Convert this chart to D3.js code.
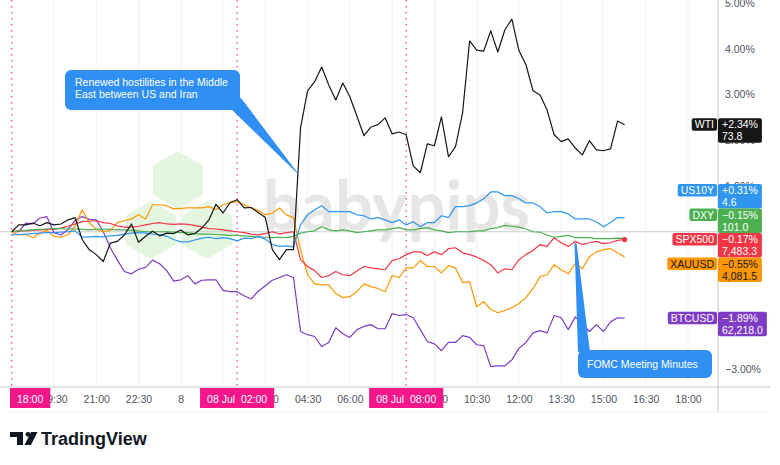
<!DOCTYPE html>
<html>
<head>
<meta charset="utf-8">
<script src="https://cdn.jsdelivr.net/npm/d3@7"></script>
<style>
  body { margin: 0; background: #ffffff; }
  svg { display: block; font-family: "Liberation Sans", Arial, sans-serif; }
</style>
</head>
<body>
<div id="chart"></div>
<script>
// 15 minute bars, % change from 7 Jul 18:00
var startTime = new Date(2025, 6, 7, 18, 0);
var endTime = new Date(2025, 6, 8, 18, 0);
var stepMinutes = 15;

var wti = [0.00, 0.15, 0.15, 0.19, 0.13, 0.20, 0.15, 0.17, 0.26, 0.31,
  -0.17, -0.39, -0.50, -0.65, -0.25, -0.21, -0.07, 0.17, -0.23, -0.10,
  0.01, -0.09, -0.03, -0.04, 0.04, -0.07, -0.04, 0.08, 0.26, 0.60,
  0.41, 0.64, 0.70, 0.52, 0.53, 0.42, 0.31, -0.39, -0.61, -0.39,
  -0.39, 2.27, 3.08, 3.28, 3.60, 3.21, 2.88, 3.25, 2.95, 2.53,
  2.10, 2.29, 2.34, 2.49, 2.14, 2.18, 2.12, 1.44, 1.29, 1.92,
  1.88, 2.51, 1.64, 1.86, 2.60, 4.17, 3.97, 3.95, 4.39, 3.93,
  4.41, 4.65, 3.96, 3.65, 3.08, 2.99, 2.66, 2.12, 1.97, 2.03,
  1.83, 1.68, 1.99, 1.79, 1.77, 1.81, 2.42, 2.34];

var us10y = [-0.07, -0.06, -0.05, -0.04, -0.03, -0.02, -0.02, -0.01, 0.00, 0.02,
  -0.12, -0.11, -0.10, -0.11, -0.09, -0.08, -0.05, -0.03, -0.02, -0.03,
  -0.05, -0.06, -0.10, -0.17, -0.22, -0.22, -0.18, -0.14, -0.12, -0.15,
  -0.13, -0.15, -0.20, -0.14, -0.15, -0.10, -0.16, -0.28, -0.32, -0.31,
  -0.33, 0.15, 0.37, 0.48, 0.57, 0.44, 0.44, 0.44, 0.44, 0.37,
  0.35, 0.28, 0.31, 0.26, 0.20, 0.26, 0.15, 0.22, 0.11, 0.20,
  0.20, 0.35, 0.31, 0.55, 0.55, 0.57, 0.63, 0.72, 0.87, 0.87,
  0.79, 0.79, 0.72, 0.63, 0.63, 0.55, 0.41, 0.44, 0.44, 0.39,
  0.28, 0.28, 0.28, 0.22, 0.11, 0.20, 0.31, 0.31];

var dxy = [0.00, 0.02, 0.03, 0.04, 0.05, 0.06, 0.07, 0.07, 0.06, 0.06,
  0.05, 0.04, 0.05, 0.06, 0.05, 0.04, 0.04, 0.03, 0.02, 0.00,
  0.00, 0.00, 0.00, -0.01, -0.02, -0.02, -0.04, -0.05, -0.05, -0.06,
  -0.07, -0.08, -0.08, -0.09, -0.10, -0.11, -0.12, -0.13, -0.12, -0.13,
  -0.10, -0.03, 0.00, 0.02, 0.11, 0.04, 0.02, 0.04, 0.02, -0.02,
  0.00, 0.02, 0.04, 0.04, 0.07, 0.09, 0.04, 0.04, 0.07, 0.09,
  0.04, 0.02, -0.02, 0.00, 0.00, 0.00, 0.02, 0.02, 0.07, 0.09,
  0.14, 0.12, 0.10, 0.06, 0.00, -0.01, -0.07, -0.12, -0.10, -0.08,
  -0.13, -0.13, -0.13, -0.15, -0.15, -0.15, -0.14, -0.15];

var spx500 = [0.00, 0.02, 0.02, 0.03, 0.04, 0.05, 0.05, 0.08, 0.12, 0.17,
  0.22, 0.23, 0.24, 0.20, 0.18, 0.13, 0.10, 0.10, 0.12, 0.15,
  0.18, 0.20, 0.17, 0.16, 0.17, 0.16, 0.14, 0.10, 0.07, 0.06,
  0.04, 0.02, 0.00, -0.02, -0.05, -0.07, -0.04, 0.00, -0.05, -0.02,
  0.00, -0.61, -0.76, -0.85, -1.00, -0.96, -0.87, -0.94, -0.96, -0.86,
  -0.76, -0.79, -0.81, -0.83, -0.63, -0.59, -0.50, -0.44, -0.44, -0.52,
  -0.44, -0.50, -0.37, -0.35, -0.46, -0.50, -0.55, -0.63, -0.72, -0.90,
  -0.81, -0.83, -0.61, -0.50, -0.41, -0.28, -0.32, -0.13, -0.24, -0.32,
  -0.21, -0.28, -0.24, -0.21, -0.26, -0.24, -0.19, -0.17];

var xauusd = [0.00, -0.07, -0.06, -0.13, -0.03, 0.03, -0.10, -0.12, -0.06, 0.12,
  0.48, 0.20, 0.05, 0.00, 0.03, 0.20, 0.24, 0.28, 0.37, 0.28,
  0.59, 0.59, 0.57, 0.50, 0.51, 0.52, 0.52, 0.52, 0.55, 0.48,
  0.59, 0.63, 0.66, 0.59, 0.52, 0.47, 0.37, 0.41, 0.52, 0.37,
  0.31, -0.39, -0.94, -1.14, -1.16, -1.16, -1.35, -1.44, -1.42, -1.31,
  -1.14, -1.20, -1.24, -1.31, -0.96, -1.00, -0.79, -0.79, -0.63, -0.76,
  -0.76, -0.90, -0.74, -0.79, -1.11, -1.09, -1.64, -1.53, -1.70, -1.77,
  -1.72, -1.66, -1.57, -1.44, -1.24, -0.98, -0.94, -0.72, -0.83, -0.92,
  -0.70, -0.81, -0.55, -0.44, -0.39, -0.37, -0.46, -0.55];

var btcusd = [0.00, 0.00, 0.19, 0.17, 0.30, 0.33, -0.02, -0.07, 0.05, 0.25,
  0.33, 0.27, 0.26, 0.00, -0.35, -0.62, -0.87, -0.92, -0.82, -0.78,
  -0.62, -0.70, -0.85, -1.08, -1.05, -0.96, -1.14, -1.06, -1.05, -1.05,
  -1.28, -1.31, -1.31, -1.40, -1.47, -1.30, -1.18, -1.06, -1.00, -0.94,
  -1.00, -2.18, -2.25, -2.29, -2.51, -2.42, -2.10, -2.23, -2.31, -2.14,
  -2.07, -2.03, -2.12, -2.12, -1.79, -1.83, -1.81, -1.88, -2.14, -2.40,
  -2.45, -2.60, -2.42, -2.42, -2.27, -2.31, -2.47, -2.49, -2.95, -2.93,
  -2.93, -2.80, -2.55, -2.42, -2.21, -2.16, -2.21, -1.83, -1.88, -2.14,
  -1.86, -2.01, -2.18, -2.03, -2.18, -1.97, -1.88, -1.89];

var seriesNames = ["BTCUSD", "XAUUSD", "SPX500", "DXY", "US10Y", "WTI"];
var seriesValues = [btcusd, xauusd, spx500, dxy, us10y, wti];
var seriesColors = ["#7e3bc4", "#ff9800", "#f23645", "#4caf50", "#2f96f0", "#161616"];
var labelTextColors = ["#ffffff", "#131722", "#ffffff", "#ffffff", "#ffffff", "#ffffff"];
var lastPrices = ["62,218.0", "4,081.5", "7,483.3", "101.0", "4.6", "73.8"];
var mainSeries = "SPX500";

var pctTicks = [-3, -2, -1, 0, 1, 2, 3, 4, 5];
var markerTimes = [new Date(2025, 6, 7, 18, 0), new Date(2025, 6, 8, 2, 0), new Date(2025, 6, 8, 8, 0)];
var markerLabels = ["18:00", "08 Jul  02:00", "08 Jul  08:00"];

var notes = [
  { lines: ["Renewed hostilities in the Middle", "East between US and Iran"] },
  { lines: ["FOMC Meeting Minutes"] }
];

var width = 780, height = 465;
var paneRight = 718, paneBottom = 387, axisBottom = 412;

var x = d3.scaleTime().domain([startTime, endTime]).range([11.7, 688]);
var y = d3.scaleLinear().domain([-3, 5]).range([369, 3]);

function timeAt(i) {
  return new Date(startTime.getTime() + i * stepMinutes * 60000);
}

// every 90 minutes, first one sits under the 18:00 marker
var timeTicks = d3.range(1, 17).map(function (k) {
  return new Date(startTime.getTime() + k * 90 * 60000);
});

function fmtTime(d) {
  if (d.getHours() === 0 && d.getMinutes() === 0) return String(d.getDate());
  return d3.timeFormat("%H:%M")(d);
}

function fmtPct(v) {
  var s = Math.abs(v).toFixed(2) + "%";
  if (v > 0) return "+" + s;
  if (v < 0) return "\u2212" + s;
  return s;
}

var svg = d3.select("#chart").append("svg")
  .attr("width", width)
  .attr("height", height);

svg.append("defs").append("clipPath").attr("id", "pane")
  .append("rect").attr("x", 0).attr("y", 0).attr("width", paneRight).attr("height", paneBottom);

// grid
svg.append("g").selectAll("line").data(timeTicks).enter().append("line")
  .attr("x1", function (d) { return x(d); })
  .attr("x2", function (d) { return x(d); })
  .attr("y1", 0).attr("y2", paneBottom)
  .attr("stroke", "#eff1f4").attr("stroke-width", 1);

// babypips watermark
var wm = svg.append("g").attr("clip-path", "url(#pane)");
var hexCenters = [[178, 180], [151, 230], [207, 230]];
var hexR = 29;
wm.selectAll("path.hex").data(hexCenters).enter().append("path")
  .attr("class", "hex")
  .attr("d", function (c) {
    var pts = d3.range(6).map(function (k) {
      var a = Math.PI / 3 * k - Math.PI / 2;
      return [c[0] + hexR * Math.cos(a), c[1] + hexR * Math.sin(a)];
    });
    return d3.line()(pts) + "Z";
  })
  .attr("fill", "#dff3da")
  .attr("opacity", 0.85);
wm.append("text")
  .attr("x", 263).attr("y", 230)
  .attr("textLength", 267).attr("lengthAdjust", "spacingAndGlyphs")
  .style("font-family", "Lato, 'Open Sans', sans-serif")
  .style("font-weight", "bold")
  .style("font-size", "68px")
  .attr("fill", "#e6e6e6")
  .text("babypips");

// zero line
svg.append("line")
  .attr("x1", 0).attr("x2", paneRight)
  .attr("y1", y(0)).attr("y2", y(0))
  .attr("stroke", "#c9cbd0").attr("stroke-width", 1);

// event markers
svg.append("g").selectAll("line").data(markerTimes).enter().append("line")
  .attr("x1", function (d) { return x(d); })
  .attr("x2", function (d) { return x(d); })
  .attr("y1", 0).attr("y2", paneBottom)
  .attr("stroke", "#f45fab").attr("stroke-width", 1.5)
  .attr("stroke-dasharray", "1.5,4.5");

// lines
var line = d3.line()
  .x(function (d, i) { return x(timeAt(i)); })
  .y(function (d) { return y(d); });

var plot = svg.append("g").attr("clip-path", "url(#pane)");
plot.selectAll("path.series").data(seriesValues).enter().append("path")
  .attr("class", "series")
  .attr("d", line)
  .attr("fill", "none")
  .attr("stroke", function (d, i) { return seriesColors[i]; })
  .attr("stroke-width", 1.2)
  .attr("stroke-linejoin", "round");

var mainIdx = seriesNames.indexOf(mainSeries);
var mainVals = seriesValues[mainIdx];
plot.append("circle")
  .attr("cx", x(timeAt(mainVals.length - 1)))
  .attr("cy", y(mainVals[mainVals.length - 1]))
  .attr("r", 2.6)
  .attr("fill", seriesColors[mainIdx]);

// callout 1
var c1 = svg.append("g");
c1.append("path")
  .attr("d", "M228,106 L241,98 L300,176 Z")
  .attr("fill", "#2f8ff2");
c1.append("rect")
  .attr("x", 65).attr("y", 70).attr("width", 175).attr("height", 40).attr("rx", 6)
  .attr("fill", "#2f8ff2");
c1.selectAll("text").data(notes[0].lines).enter().append("text")
  .attr("x", 75).attr("y", function (d, i) { return 86 + i * 12; })
  .attr("fill", "#ffffff").style("font-size", "10.5px")
  .text(function (d) { return d; });

// callout 2
var c2 = svg.append("g");
c2.append("path")
  .attr("d", "M574.5,243 L576.5,243 L590,352 L578,352 Z")
  .attr("fill", "#2f8ff2");
c2.append("rect")
  .attr("x", 578).attr("y", 350).attr("width", 134).attr("height", 28).attr("rx", 6)
  .attr("fill", "#2f8ff2");
c2.append("text")
  .attr("x", 587).attr("y", 368)
  .attr("fill", "#ffffff").style("font-size", "10.5px")
  .text(notes[1].lines[0]);

// axes frame
svg.append("line").attr("x1", 0).attr("x2", 770).attr("y1", paneBottom).attr("y2", paneBottom)
  .attr("stroke", "#c3c6cc");
svg.append("line").attr("x1", paneRight).attr("x2", paneRight).attr("y1", 0).attr("y2", axisBottom)
  .attr("stroke", "#c3c6cc");
svg.append("line").attr("x1", 8).attr("x2", 770).attr("y1", axisBottom).attr("y2", axisBottom)
  .attr("stroke", "#eceef1");

var xAxis = d3.axisBottom(x).tickValues(timeTicks).tickSize(0).tickFormat(fmtTime);
var gx = svg.append("g").attr("transform", "translate(0," + paneBottom + ")").call(xAxis);
gx.select(".domain").remove();
gx.attr("color", "#50535e");
gx.selectAll("text").attr("y", 16).attr("dy", 0)
  .style("font-size", "10.5px").style("font-family", "'Liberation Sans', Arial, sans-serif");

// price scale labels, main series fixed, others pushed apart
var labelH = 24.5;
var labels = seriesNames.map(function (n, i) {
  var v = seriesValues[i][seriesValues[i].length - 1];
  return { name: n, idx: i, value: v, top: y(v) - 6.5 };
});
labels.sort(function (a, b) { return a.top - b.top; });
var m = labels.findIndex(function (d) { return d.name === mainSeries; });
for (var k = m - 1; k >= 0; k--) {
  labels[k].top = Math.min(labels[k].top, labels[k + 1].top - labelH);
}
for (var k2 = m + 1; k2 < labels.length; k2++) {
  labels[k2].top = Math.max(labels[k2].top, labels[k2 - 1].top + labelH);
}

// percent ticks hidden behind a label box are dropped
var shownTicks = pctTicks.filter(function (t) {
  var ty = y(t);
  return !labels.some(function (l) { return ty > l.top + 3 && ty < l.top + labelH - 3; });
});
var yAxis = d3.axisRight(y).tickValues(shownTicks).tickSize(0).tickPadding(7)
  .tickFormat(function (d) { return (d < 0 ? "\u2212" : "") + Math.abs(d).toFixed(2) + "%"; });
var gy = svg.append("g").attr("transform", "translate(" + paneRight + ",0)").call(yAxis);
gy.select(".domain").remove();
gy.attr("color", "#50535e");
gy.selectAll("text")
  .style("font-size", "10.5px").style("font-family", "'Liberation Sans', Arial, sans-serif");

// marker labels on time axis
var markerBoxes = [];
var mk = svg.append("g").selectAll("g").data(markerTimes).enter().append("g");
mk.append("text")
  .attr("y", 403)
  .attr("fill", "#ffffff")
  .style("font-size", "10.5px")
  .style("white-space", "pre")
  .attr("text-anchor", "middle")
  .text(function (d, i) { return markerLabels[i]; });
mk.each(function (d) {
  var g = d3.select(this);
  var t = g.select("text");
  var w = t.node().getComputedTextLength() + 14;
  var left = Math.max(10, x(d) - w / 2);
  g.insert("rect", "text")
    .attr("x", left).attr("y", 388).attr("width", w).attr("height", 20)
    .attr("fill", "#f5168a");
  t.attr("x", left + w / 2);
  markerBoxes.push([left, left + w]);
});

// time labels completely under a marker box are not drawn
gx.selectAll(".tick").each(function (d) {
  var bb = this.getBBox();
  var tx = x(d) + bb.x;
  var covered = markerBoxes.some(function (b) { return tx >= b[0] && tx + bb.width <= b[1]; });
  if (covered) d3.select(this).remove();
});

var lg = svg.append("g").selectAll("g").data(labels).enter().append("g");
lg.each(function (d) {
  var g = d3.select(this);
  var col = seriesColors[d.idx], tc = labelTextColors[d.idx];
  var nameText = g.append("text")
    .attr("y", d.top + 10).attr("fill", tc)
    .style("font-size", "10.5px")
    .attr("text-anchor", "end")
    .text(d.name);
  var nw = nameText.node().getComputedTextLength() + 6;
  nameText.attr("x", paneRight - 4);
  g.insert("rect", "text")
    .attr("x", paneRight - 1 - nw).attr("y", d.top).attr("width", nw).attr("height", 12.5)
    .attr("rx", 2).attr("fill", col);
  var t1 = g.append("text").attr("x", paneRight + 4).attr("y", d.top + 10).attr("fill", tc)
    .style("font-size", "10.5px").text(fmtPct(d.value));
  var t2 = g.append("text").attr("x", paneRight + 4).attr("y", d.top + 22).attr("fill", tc)
    .style("font-size", "10.5px").text(lastPrices[d.idx]);
  var vw = Math.max(t1.node().getComputedTextLength(), t2.node().getComputedTextLength()) + 8;
  g.insert("rect", "text")
    .attr("x", paneRight).attr("y", d.top).attr("width", vw).attr("height", labelH)
    .attr("rx", 2).attr("fill", col);
  g.selectAll("text").raise();
});

// TradingView logo
var logo = svg.append("g").attr("fill", "#131722");
logo.append("path").attr("d", "M10,432 L23,432 L23,445 L17,445 L17,437 L10,437 Z");
logo.append("circle").attr("cx", 28).attr("cy", 434.3).attr("r", 2.4);
logo.append("path").attr("d", "M31,432 L37.5,432 L31,445 L24.5,445 Z");
logo.append("text")
  .attr("x", 41).attr("y", 445)
  .style("font-size", "18px").style("font-weight", "bold")
  .text("TradingView");
</script>
</body>
</html>
